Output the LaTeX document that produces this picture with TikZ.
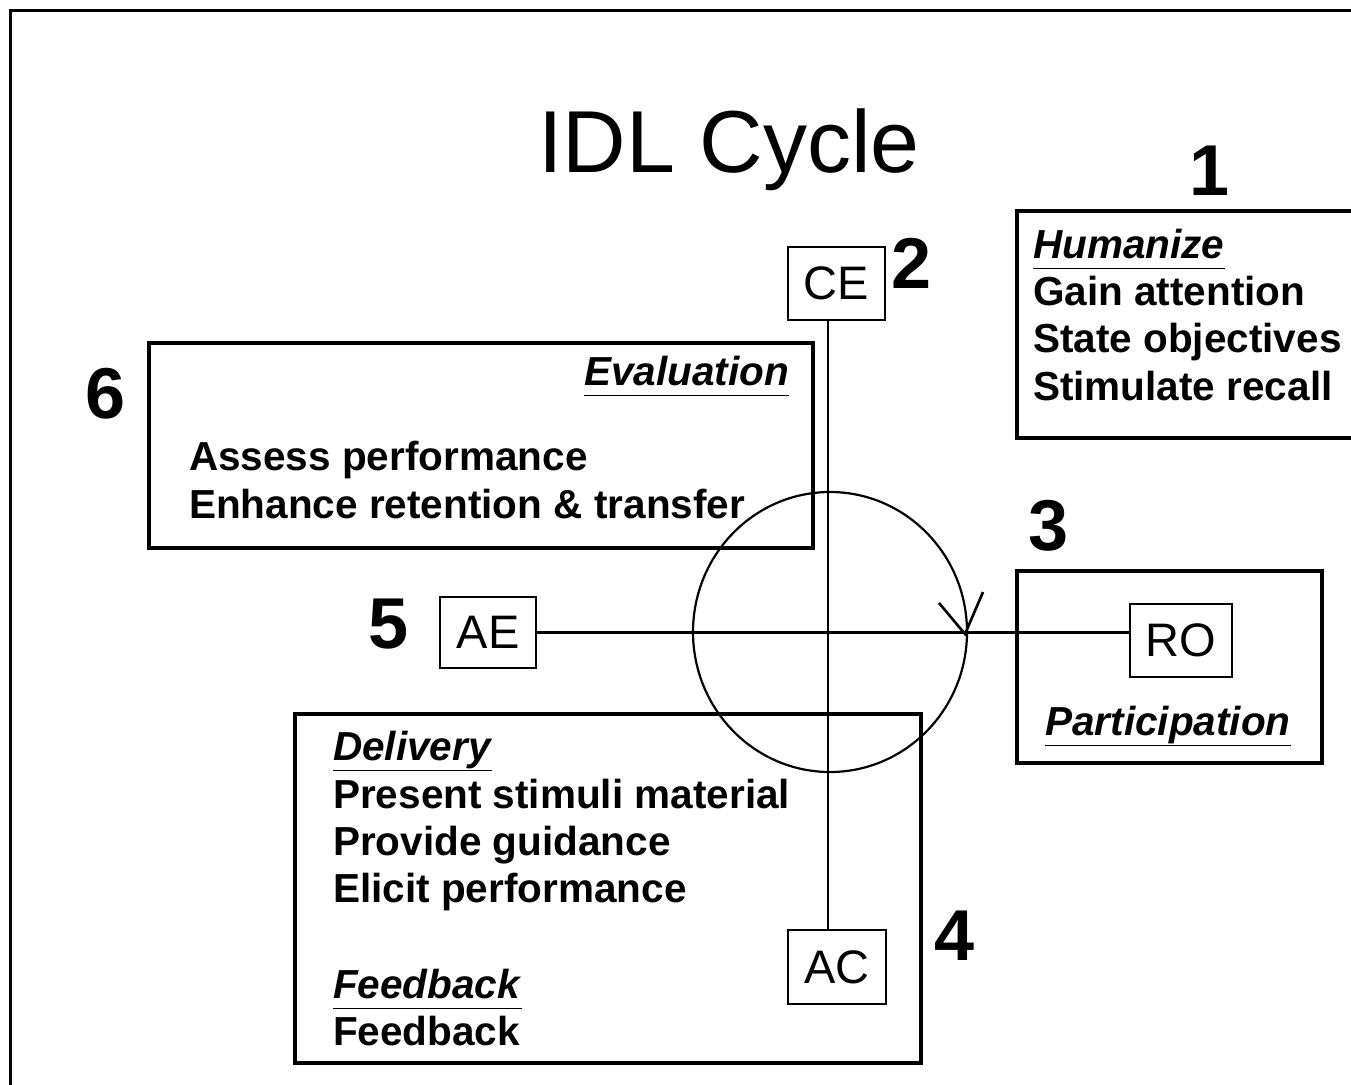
\documentclass[tikz,border=0pt]{standalone}
\usepackage{fontspec}
\setmainfont{Liberation Sans}
\newcommand\headtxt[1]{\underline{\textit{#1}\vphantom{y}}}
\begin{document}
\begin{tikzpicture}[x=1pt,y=-1pt,
  bigbox/.style={draw, line width=4pt, inner sep=0pt},
  tagbox/.style={draw, line width=1.6pt, inner sep=0pt, font=\fontsize{47}{52}\selectfont},
  body/.style={anchor=base west, inner sep=0pt, font=\bfseries\fontsize{40.5}{48}\selectfont},
  num/.style={anchor=base, inner sep=0pt, font=\bfseries\fontsize{72}{80}\selectfont},
  axis/.style={line width=2.2pt},
]
\useasboundingbox (0,0) rectangle (1351,1084);
\fill[white] (0,0) rectangle (1351,1084);
\clip (0,0) rectangle (1351,1084);

% outer frame (only left and top edges fall inside the page)
\draw[line width=3pt] (10,1100) -- (10,10) -- (1370,10);

% title
\node[anchor=base, inner sep=0pt, font=\fontsize{88}{96}\selectfont] (title) at (729,172) {IDL Cycle};

% large phase boxes
\node[bigbox, minimum width=345pt, minimum height=227pt] (humbox) at (1189.5,324.5) {};
\node[bigbox, minimum width=664pt, minimum height=205pt] (evalbox) at (481,445.5) {};
\node[bigbox, minimum width=305pt, minimum height=192pt] (partbox) at (1169.5,667) {};
\node[bigbox, minimum width=626pt, minimum height=349pt] (delivbox) at (608,888.5) {};

% small quadrant tags
\node[tagbox, minimum width=97pt, minimum height=73pt] (CE) at (836.5,283.5) {CE};
\node[tagbox, minimum width=96pt, minimum height=71pt] (AE) at (488,632.5) {AE};
\node[tagbox, minimum width=102pt, minimum height=73pt] (RO) at (1181,640.5) {RO};
\node[tagbox, minimum width=98pt, minimum height=74pt] (AC) at (837,967) {AC};

% axes of the cycle
\coordinate (vx) at (828,0);
\draw[axis] (CE.south -| vx) -- (AC.north -| vx);
\draw[axis] (AE.east) -- (AE.east -| RO.west);

% cycle circle with its arrowhead
\coordinate (hub) at (830,632);
\draw[axis] (hub) ellipse [x radius=137pt, y radius=140pt];
\coordinate (tip) at (965,634);
\draw[line width=2.6pt, line join=miter] (tip) ++(-26,-31) -- (tip) -- ++(18,-42);

% step numbers
\node[num] (n1) at (1210,195) {1};
\node[num] (n2) at (912,288) {2};
\node[num] (n3) at (1049,550) {3};
\node[num] (n4) at (955,960) {4};
\node[num] (n5) at (389,648) {5};
\node[num] (n6) at (106,418) {6};

% box 1
\node[body] (h0) at (1033,258) {\headtxt{Humanize}};
\node[body] (h1) at (1033,305) {Gain attention};
\node[body] (h2) at (1033,352) {State objectives};
\node[body] (h3) at (1033,400) {Stimulate recall};

% box 6
\node[body, anchor=base east] (e0) at (789,385) {\headtxt{Evaluation}};
\node[body] (e1) at (189,470) {Assess performance};
\node[body] (e2) at (189,518) {Enhance retention \& transfer};

% box 3
\node[body, anchor=base] (p0) at (1168,735) {\headtxt{Participation}};

% box 4
\node[body] (d0) at (333,760) {\headtxt{Delivery}};
\node[body] (d1) at (333,808) {Present stimuli material};
\node[body] (d2) at (333,855) {Provide guidance};
\node[body] (d3) at (333,902) {Elicit performance};
\node[body] (d4) at (333,998) {\headtxt{Feedback}};
\node[body] (d5) at (333,1045) {Feedback};
\end{tikzpicture}
\end{document}
